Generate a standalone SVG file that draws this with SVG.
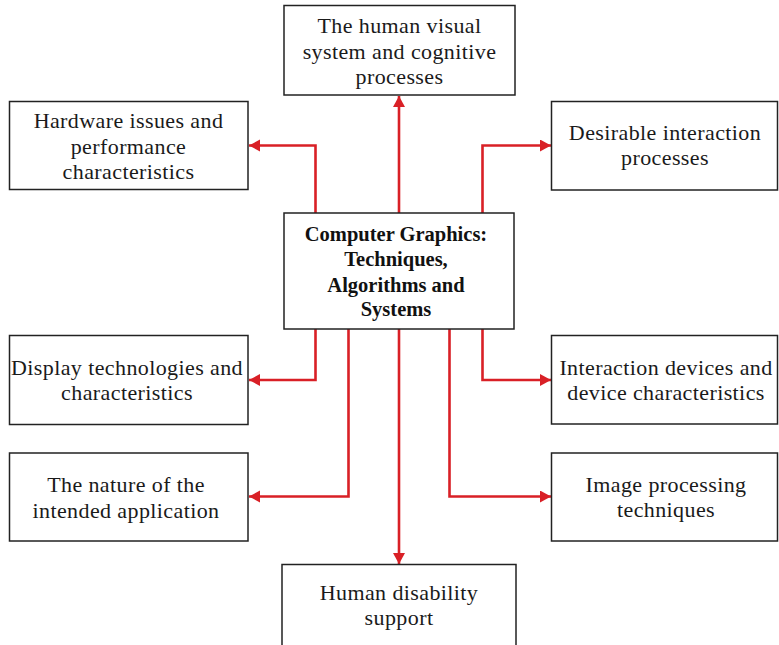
<svg xmlns="http://www.w3.org/2000/svg" width="779" height="645" viewBox="0 0 779 645">
<style>
.box{fill:#fff;stroke:#222;stroke-width:1.5}
.t{font-family:"Liberation Serif","Times New Roman",serif;font-size:22px;fill:#1a1a1a;text-anchor:middle;letter-spacing:0.4px}
.b{font-family:"Liberation Serif","Times New Roman",serif;font-size:20.5px;font-weight:bold;fill:#111;text-anchor:middle}
.c{fill:none;stroke:#d92026;stroke-width:2.6;marker-end:url(#ah)}
</style>
<defs>
<marker id="ah" markerUnits="userSpaceOnUse" markerWidth="14" markerHeight="14" refX="11" refY="6" orient="auto">
<path d="M0,0 L11,6 L0,12 Z" fill="#d92026"/>
</marker>
</defs>
<g id="connectors">
<path class="c" d="M315.5,213 V145.5 H249"/>
<path class="c" d="M399,213 V96"/>
<path class="c" d="M482.5,213 V145.5 H551"/>
<path class="c" d="M315.5,329 V380 H249"/>
<path class="c" d="M348.5,329 V496.5 H249"/>
<path class="c" d="M399,329 V564"/>
<path class="c" d="M449.5,329 V496.5 H551"/>
<path class="c" d="M482.5,329 V380 H551"/>
</g>
<g id="center">
<rect class="box" x="284" y="213" width="230" height="116"/>
<text class="b" x="396" y="241">Computer Graphics:</text>
<text class="b" x="396" y="266">Techniques,</text>
<text class="b" x="396" y="291.5">Algorithms and</text>
<text class="b" x="396" y="316">Systems</text>
</g>
<g id="visual">
<rect class="box" x="284" y="5.5" width="231" height="89.5"/>
<text class="t" x="399.5" y="33">The human visual</text>
<text class="t" x="399.5" y="59">system and cognitive</text>
<text class="t" x="399.5" y="84">processes</text>
</g>
<g id="hardware">
<rect class="box" x="9.5" y="101.5" width="238.5" height="88"/>
<text class="t" x="128.5" y="128">Hardware issues and</text>
<text class="t" x="128.5" y="153.5">performance</text>
<text class="t" x="128.5" y="179">characteristics</text>
</g>
<g id="desirable">
<rect class="box" x="551.5" y="101.5" width="226" height="88.5"/>
<text class="t" x="665" y="140">Desirable interaction</text>
<text class="t" x="665" y="165">processes</text>
</g>
<g id="display">
<rect class="box" x="9.5" y="335.5" width="238.5" height="89"/>
<text class="t" x="127" y="375">Display technologies and</text>
<text class="t" x="127" y="400">characteristics</text>
</g>
<g id="interaction">
<rect class="box" x="551.5" y="335.5" width="226" height="88.5"/>
<text class="t" x="666" y="374.5">Interaction devices and</text>
<text class="t" x="666" y="400">device characteristics</text>
</g>
<g id="nature">
<rect class="box" x="9.5" y="453" width="238.5" height="88"/>
<text class="t" x="126" y="492">The nature of the</text>
<text class="t" x="126" y="518">intended application</text>
</g>
<g id="image">
<rect class="box" x="551.5" y="453" width="226" height="88"/>
<text class="t" x="666" y="492">Image processing</text>
<text class="t" x="666" y="517">techniques</text>
</g>
<g id="disability">
<rect class="box" x="282" y="564.5" width="234" height="100"/>
<text class="t" x="399" y="599.5">Human disability</text>
<text class="t" x="399" y="625">support</text>
</g>
</svg>
